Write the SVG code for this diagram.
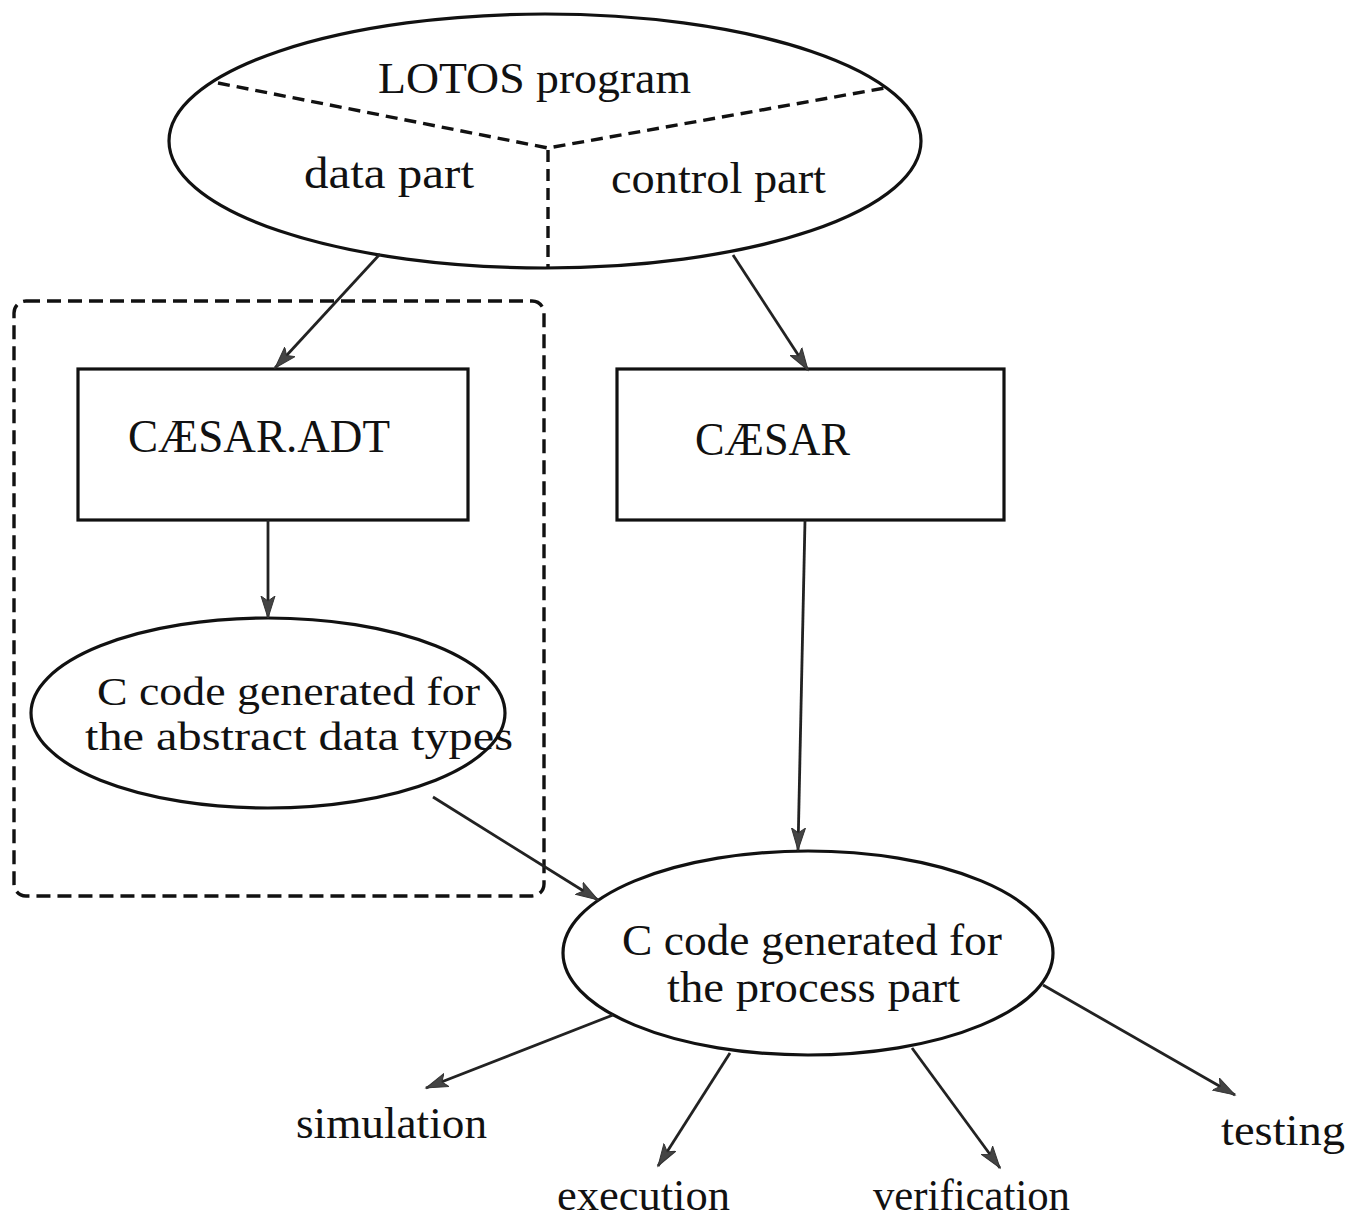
<svg xmlns="http://www.w3.org/2000/svg" width="1351" height="1218" viewBox="0 0 1351 1218">
<style>
.shape{fill:none;stroke:#111;stroke-width:3.2}
.div{fill:none;stroke:#111;stroke-width:3.4;stroke-dasharray:12 7}
.frame{fill:none;stroke:#111;stroke-width:3.4;stroke-dasharray:14 7}
.edge{fill:none;stroke:#222;stroke-width:2.8;marker-end:url(#ah)}
text{font-family:"Liberation Serif","DejaVu Serif",serif;fill:#111}
</style>
<defs>
<marker id="ah" markerUnits="userSpaceOnUse" markerWidth="24" markerHeight="16" viewBox="0 0 24 16" refX="22" refY="8" orient="auto">
<path d="M0,1 L22,8 L0,15 L5,8 Z" fill="#444" stroke="#333" stroke-width="1"/>
</marker>
</defs>
<rect width="1351" height="1218" fill="#fff"/>
<g id="lotos">
<ellipse class="shape" cx="545" cy="141" rx="376" ry="127"/>
<path class="div" d="M218,83 L548,148 L885,88"/>
<path class="div" d="M548,150 L548,267"/>
<text x="378" y="93" font-size="45" textLength="313" lengthAdjust="spacingAndGlyphs">LOTOS program</text>
<text x="304" y="188" font-size="45" textLength="170" lengthAdjust="spacingAndGlyphs">data part</text>
<text x="611" y="193" font-size="45" textLength="215" lengthAdjust="spacingAndGlyphs">control part</text>
</g>
<g id="adt-frame">
<rect class="frame" x="14" y="301" width="530" height="595" rx="12"/>
</g>
<g id="caesar-adt">
<rect class="shape" x="78" y="369" width="390" height="151"/>
<text x="128" y="452" font-size="46" textLength="262" lengthAdjust="spacingAndGlyphs">CÆSAR.ADT</text>
</g>
<g id="caesar">
<rect class="shape" x="617" y="369" width="387" height="151"/>
<text x="695" y="455" font-size="46" textLength="155" lengthAdjust="spacingAndGlyphs">CÆSAR</text>
</g>
<g id="adt-code">
<ellipse class="shape" cx="268" cy="713" rx="237" ry="95"/>
<text x="97" y="705" font-size="41" textLength="383" lengthAdjust="spacingAndGlyphs">C code generated for</text>
<text x="85" y="750" font-size="41" textLength="428" lengthAdjust="spacingAndGlyphs">the abstract data types</text>
</g>
<g id="process-code">
<ellipse class="shape" cx="808" cy="953" rx="245" ry="102"/>
<text x="622" y="955" font-size="45" textLength="380" lengthAdjust="spacingAndGlyphs">C code generated for</text>
<text x="667" y="1002" font-size="45" textLength="293" lengthAdjust="spacingAndGlyphs">the process part</text>
</g>
<g id="simulation"><text x="296" y="1138" font-size="45" textLength="191" lengthAdjust="spacingAndGlyphs">simulation</text></g>
<g id="execution"><text x="557" y="1210" font-size="45" textLength="173" lengthAdjust="spacingAndGlyphs">execution</text></g>
<g id="verification"><text x="873" y="1210" font-size="45" textLength="197" lengthAdjust="spacingAndGlyphs">verification</text></g>
<g id="testing"><text x="1221" y="1145" font-size="45" textLength="124" lengthAdjust="spacingAndGlyphs">testing</text></g>
<g id="connectors">
<line class="edge" x1="380" y1="254" x2="275" y2="368"/>
<line class="edge" x1="733" y1="255" x2="808" y2="370"/>
<line class="edge" x1="268" y1="520" x2="268" y2="618"/>
<line class="edge" x1="805" y1="520" x2="798" y2="850"/>
<line class="edge" x1="433" y1="797" x2="598" y2="900"/>
<line class="edge" x1="613" y1="1015" x2="426" y2="1088"/>
<line class="edge" x1="730" y1="1053" x2="658" y2="1166"/>
<line class="edge" x1="912" y1="1048" x2="1000" y2="1168"/>
<line class="edge" x1="1043" y1="985" x2="1235" y2="1095"/>
</g>
</svg>
